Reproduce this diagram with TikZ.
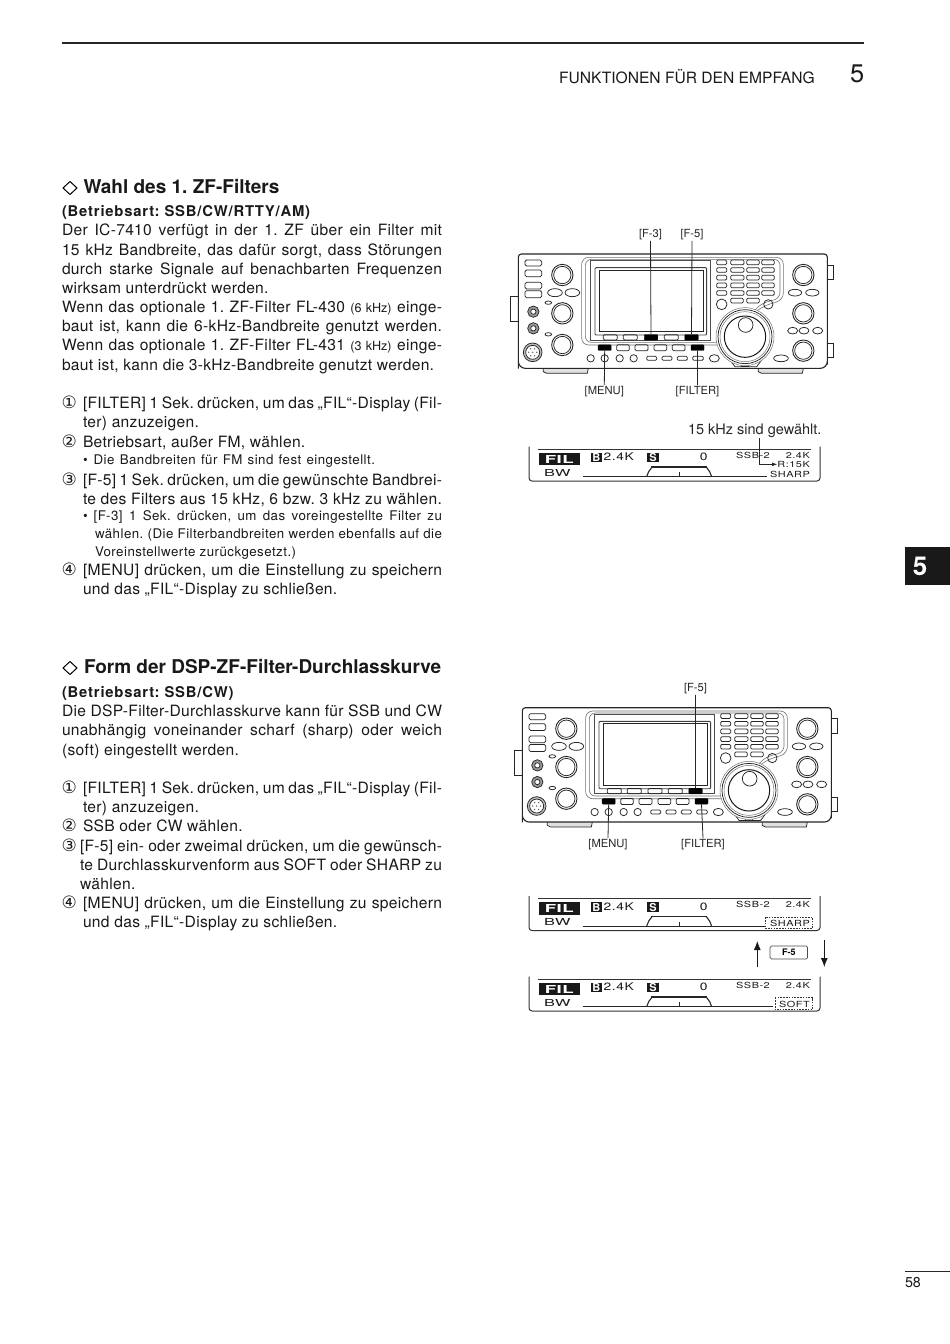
\documentclass[tikz,border=0pt]{standalone}
\usepackage{fontspec}
\usetikzlibrary{arrows.meta,calc}
\setmainfont{TeX Gyre Heros}
\newfontfamily\dejavu{DejaVu Sans}
\newfontfamily\dispfont[FakeStretch=1.3,LetterSpace=6]{TeX Gyre Heros}
\newfontfamily\wideb[FakeStretch=1.7,LetterSpace=4]{TeX Gyre Heros}
\newfontfamily\bodyfam[LetterSpace=2]{TeX Gyre Heros}
\newfontfamily\smallfam[LetterSpace=3.5]{TeX Gyre Heros}
\newfontfamily\subfam[LetterSpace=5.5]{TeX Gyre Heros}
\newcommand\bodyf{\fontsize{15.6}{18}\selectfont\bodyfam}
\newcommand\inlf{\fontsize{12.6}{15}\selectfont\rmfamily}
\newcommand\smallf{\fontsize{13.3}{15}\selectfont\smallfam}
\newcommand\headf{\fontsize{19}{22}\selectfont\bfseries}
\newcommand\subf{\fontsize{14.8}{17}\selectfont\subfam\bfseries}
\newcommand\dispf{\fontsize{10.6}{12}\selectfont\dispfont}
\newcommand\dispr{\fontsize{8.4}{10}\selectfont\dispfont}
\newcount\linecnt
\tikzset{
  txt/.style={anchor=base west,inner sep=0pt,outer sep=0pt,text=black!90},
  lab/.style={font=\fontsize{11.2}{13}\selectfont,inner sep=1pt,text=black!85},
  disptxt/.style={anchor=base east,inner sep=0pt,font=\dispr,text=black!90},
  dispbig/.style={anchor=base west,inner sep=0pt,font=\dispf,text=black!90},
  blackbox/.style={fill=black!90,text=white,minimum width=11.6pt,minimum height=9.6pt,inner sep=0pt,font=\fontsize{11}{12}\selectfont\bfseries},
  blackbtn/.style={fill=black,draw=black,inner sep=0pt,minimum width=13.5pt,minimum height=5.6pt,rounded corners=.8pt},
  conn/.style={line width=.8pt,black!85},
  rl/.style={line width=.75pt,black!85},
  dashbox/.style={draw=black!80,dashed,dash pattern=on 1.6pt off 1.2pt,line width=.6pt}
}
\newcommand\jl[5][\bodyf]{\global\advance\linecnt by 1
  \node[txt,font=#1] (line\the\linecnt) at (#2,#3) {\makebox[#4pt][s]{#5}};}
\newcommand\nln[4][\bodyf]{\global\advance\linecnt by 1
  \node[txt,font=#1] (line\the\linecnt) at (#2,#3) {#4};}
\newcommand\numc[3]{\global\advance\linecnt by 1
  \node[txt,font=\fontsize{17}{18}\selectfont\dejavu] (line\the\linecnt) at (#1,#2) {#3};}
\newcommand\diam[2]{\draw[line width=1pt] (#1,#2) -- ++(7,-6.5) -- ++(7,6.5) -- ++(-7,6.5) -- cycle;}
\newcommand\knob[2]{\draw[rl,line width=.9pt] (#1,#2) circle (32); \draw[rl] (#1,#2) circle (26);}
\newcommand\pill[4]{\draw[rl,rounded corners=1.2pt] (#1,#3) rectangle (#2,#4);}
\newcommand\ovalb[4]{\draw[rl] (#1,#2) ellipse (#3 and #4);}
% radio: #1 prefix, #2 xshift, #3 yshift, #4 F-3 button code
\newcommand\radio[4]{%
\begin{scope}[shift={(#2,#3)},x=.33333pt,y=-.33333pt]
  % tabs and feet
  \draw[rl] (55,230) -- (30,230) -- (30,305) -- (55,305);
  \draw[rl] (982,135) -- (1000,135) -- (1000,178) -- (982,178);
  \draw[rl] (982,370) -- (1000,370) -- (1000,412) -- (982,412);
  \draw[rl,fill=black!12] (130,445) -- (130,455) -- (140,460) -- (262,460) -- (265,445);
  \draw[rl,fill=black!12] (775,445) -- (775,455) -- (785,460) -- (907,460) -- (910,445);
  % body
  \draw[line width=1.1pt,black!85,rounded corners=3pt,fill=white] (55,102) -- (982,102) -- (982,425) [rounded corners=7pt] -- (982,445) -- (55,445) -- (55,425) [rounded corners=3pt] -- cycle;
  % left buttons
  \draw[rl,rounded corners=1.5pt] (75,120) rectangle (125,138);
  \draw[rl,rounded corners=1.5pt] (75,150) rectangle (125,170);
  \draw[rl,rounded corners=1.5pt] (75,187) rectangle (125,207);
  \draw[rl,rounded corners=1.5pt] (75,212) rectangle (125,233);
  \knob{187}{165} \knob{187}{280} \knob{187}{375}
  \knob{910}{165} \knob{910}{280} \knob{910}{392}
  \ovalb{165}{218}{22}{12} \ovalb{217}{218}{22}{12}
  \ovalb{885}{218}{20}{10} \ovalb{937}{218}{20}{10}
  \ovalb{878}{332}{15}{10} \ovalb{912}{332}{15}{10} \ovalb{953}{332}{15}{10}
  \ovalb{843}{415}{22}{10}
  \ovalb{145}{248}{10}{5} \ovalb{145}{343}{10}{5}
  \draw[rl,fill=black!40] (100,275) circle (17); \draw[rl,fill=white] (100,275) circle (8);
  \draw[rl,fill=black!40] (100,325) circle (17); \draw[rl,fill=white] (100,325) circle (8);
  \draw[rl,fill=black!25] (98,397) circle (28); \draw[rl,fill=white] (98,397) circle (21);
  \foreach \a in {0,60,...,300} {\fill[black!60] (98,397) ++(\a:12) circle (2.4);}
  \fill[black!60] (98,397) circle (2.4);
  % display bezel
  \draw[line width=.6pt,black!55,rounded corners=7pt] (245,112) -- (850,112) -- (850,240) -- (790,258) -- (735,300) -- (680,375) -- (245,375) -- cycle;
  \draw[line width=.6pt,black!55,rounded corners=6pt] (256,118) -- (840,118) -- (840,235) -- (785,250) -- (735,300) -- (670,367) -- (256,367) -- cycle;
  \draw[rl,black!70] (270,122) rectangle (632,360);
  \draw[line width=.9pt,black!75,rounded corners=1pt] (285,143) rectangle (620,345);
  \draw[line width=.8pt,black!85] (297,150) rectangle (610,335);
  % keypad
  \foreach \yy in {127,150,173,196,219} {
    \pill{650}{680}{\yy-7}{\yy+7} \pill{692}{732}{\yy-7}{\yy+7}
    \pill{740}{778}{\yy-7}{\yy+7} \pill{785}{823}{\yy-7}{\yy+7} }
  \pill{692}{730}{235}{249} \pill{740}{778}{235}{249}
  \draw[rl] (665,253) circle (16); \draw[rl] (805,253) circle (14);
  % dial
  \draw[rl,fill=white] (690,420) -- (705,440) -- (770,440) -- (785,420);
  \draw[rl] (725,432) rectangle (745,440);
  \draw[line width=.5pt,black!55,fill=white] (735,350) circle (87);
  \draw[rl] (735,350) circle (81);
  \draw[line width=.5pt,black!55] (735,350) circle (75);
  \draw[line width=1pt,black!90] (735,350) circle (62);
  \draw[rl] (737,315) circle (22);
  % first button row
  \pill{310}{352}{344}{360} \pill{370}{412}{344}{360} \pill{493}{535}{344}{360}
  #4
  \node[blackbtn] (#1f5) at (574.5,352) {};
  % second button row
  \node[blackbtn,minimum width=13pt] (#1menu) at (314,383) {};
  \pill{350}{388}{374}{392} \pill{405}{444}{374}{392} \pill{462}{500}{374}{392} \pill{517}{555}{374}{392}
  \node[blackbtn,minimum width=13pt] (#1filter) at (592.5,383) {};
  % third row
  \foreach \xx in {272,314,359,401} {\draw[rl] (\xx,415) circle (11);}
  \pill{440}{470}{409}{421} \pill{486}{516}{409}{421} \pill{532}{562}{409}{421} \pill{578}{610}{409}{421}
  \ovalb{643}{415}{15}{11}
\end{scope}}
% display: #1 prefix, #2 yshift, #3 baseline right end, #4 #5 extra content
\newcommand\lcd[5]{%
\begin{scope}[shift={(520,415+#2)},x=.33333pt,y=-.33333pt]
  \draw[line width=1pt,black!80,rounded corners=3pt] (27,95) -- (27,198) -- (900,198) -- (900,95);
  \draw[line width=1pt,black!80] (55,103) -- (872,103);
  \node[fill=black!90,minimum width=41pt,minimum height=12.4pt,inner sep=0pt,text=white,font=\fontsize{11}{13}\selectfont\wideb\bfseries] (#1fil) at (118,132) {FIL};
  \node[dispbig,font=\fontsize{9.6}{12}\selectfont\wideb] (#1bw) at (72,183) {BW};
  \node[blackbox] (#1b) at (229,128) {B};
  \node[dispbig] (#1bval) at (250,137) {2.4K};
  \node[blackbox] (#1s) at (399,128) {S};
  \node[dispbig,anchor=base] (#1zero) at (551,137) {0};
  \node[disptxt,anchor=base west] (#1ssb) at (648,129) {SSB-2};
  \node[disptxt] (#1wid) at (870,129) {2.4K};
  \draw[line width=1pt,black!85] (190,185) -- (#3,185);
  \draw[line width=1.7pt,black!85] (392,156) -- (562,156);
  \draw[line width=1.1pt,black!85] (380,185) -- (386,170) -- (397,155) (558,155) -- (569,170) -- (575,185);
  \draw[line width=1.1pt,black!85] (478,172) -- (478,185);
  #4
  #5
\end{scope}}
\begin{document}
\frenchspacing
\begin{tikzpicture}[x=1pt,y=-1pt]
\useasboundingbox (0,0) rectangle (950,1344);
\fill[white] (0,0) rectangle (950,1344);
% header
\draw[line width=1.3pt,black!85] (62,43) -- (864,43);
\node[txt,font=\fontsize{15.6}{18}\selectfont] (hdr) at (559,83) {FUNKTIONEN FÜR DEN EMPFANG};
\node[txt,font=\fontsize{25.5}{30}\selectfont] (hnum) at (850,82.5) {5};
% tab
\node[fill=black!90,text=white,anchor=north west,minimum width=45pt,minimum height=38pt,inner sep=0pt,font=\fontsize{26}{28}\selectfont\bfseries] (tab) at (905,547) {\makebox[30pt]{5}\kern15pt};
% page number
\draw[line width=.7pt,black!85] (905,1271) -- (950,1271);
\node[txt,font=\fontsize{14.3}{15}\selectfont] (pg) at (905,1287) {58};

% section 1
\diam{63}{188}
\nln[\headf]{83.5}{193}{Wahl des 1. ZF-Filters}
\nln[\subf]{62}{216.5}{(Betriebsart: SSB/CW/RTTY/AM)}
\jl{62}{235.5}{380}{Der IC-7410 verfügt in der 1. ZF über ein Filter mit}
\jl{62}{255}{380}{15 kHz Bandbreite, das dafür sorgt, dass Störungen}
\jl{62}{274}{380}{durch starke Signale auf benachbarten Frequenzen}
\nln{62}{293}{wirksam unterdrückt werden.}
\jl{62}{312.5}{380}{Wenn das optionale 1. ZF-Filter FL-430 {\inlf (6 kHz)} einge-}
\jl{62}{331.5}{380}{baut ist, kann die 6-kHz-Bandbreite genutzt werden.}
\jl{62}{350.5}{380}{Wenn das optionale 1. ZF-Filter FL-431 {\inlf (3 kHz)} einge-}
\nln{62}{370}{baut ist, kann die 3-kHz-Bandbreite genutzt werden.}

\numc{61.5}{408}{①}
\jl{83}{408}{359}{[FILTER] 1 Sek. drücken, um das „FIL“-Display (Fil-}
\nln{83}{427}{ter) anzuzeigen.}
\numc{61.5}{447}{②}
\nln{83}{447}{Betriebsart, außer FM, wählen.}
\jl[\smallf]{83}{464.5}{292}{•\hspace{6pt}Die Bandbreiten für FM sind fest eingestellt.}
\numc{61.5}{485}{③}
\jl{83}{485}{359}{[F-5] 1 Sek. drücken, um die gewünschte Bandbrei-}
\jl{83}{504}{359}{te des Filters aus 15 kHz, 6 bzw. 3 kHz zu wählen.}
\jl[\smallf]{83}{520.5}{359}{•\hspace{6pt}[F-3] 1 Sek. drücken, um das voreingestellte Filter zu}
\jl[\smallf]{95}{538.5}{347}{wählen. (Die Filterbandbreiten werden ebenfalls auf die}
\nln[\smallf]{95}{556}{Voreinstellwerte zurückgesetzt.)}
\numc{61.5}{575}{④}
\jl{83}{575}{359}{[MENU] drücken, um die Einstellung zu speichern}
\nln{83}{594}{und das „FIL“-Display zu schließen.}

% section 2
\diam{63}{668}
\nln[\headf]{84}{673}{Form der DSP-ZF-Filter-Durchlasskurve}
\nln[\subf]{62}{697}{(Betriebsart: SSB/CW)}
\jl{62}{716}{380}{Die DSP-Filter-Durchlasskurve kann für SSB und CW}
\jl{62}{735.5}{380}{unabhängig voneinander scharf (sharp) oder weich}
\nln{62}{755}{(soft) eingestellt werden.}
\numc{61.5}{793}{①}
\jl{83}{793}{359}{[FILTER] 1 Sek. drücken, um das „FIL“-Display (Fil-}
\nln{83}{812}{ter) anzuzeigen.}
\numc{61.5}{831.5}{②}
\nln{83}{831.5}{SSB oder CW wählen.}
\numc{61.5}{851}{③}
\jl{80}{851}{362}{[F-5] ein- oder zweimal drücken, um die gewünsch-}
\jl{80}{870}{362}{te Durchlasskurvenform aus SOFT oder SHARP zu}
\nln{80}{889}{wählen.}
\numc{61.5}{908}{④}
\jl{83}{908}{359}{[MENU] drücken, um die Einstellung zu speichern}
\nln{83}{927}{und das „FIL“-Display zu schließen.}

% radio 1
\radio{ra}{500}{220}{\node[blackbtn] (raf3) at (453,352) {};}
\node[lab] (raF3l) at (650.5,234.5) {[F-3]};
\node[lab] (raF5l) at (692,234.5) {[F-5]};
\node[lab] (raMl) at (604.3,391.5) {[MENU]};
\node[lab] (raFl) at (697.5,391.5) {[FILTER]};
\draw[conn] (raF3l.south) -- (raf3.north);
\draw[conn] (raF5l.south) -- (raf5.north);
\draw[conn] (raMl.north) -- (ramenu.south);
\draw[conn] (raFl.north) -- (rafilter.south);

% radio 2
\radio{rb}{504}{673.7}{\pill{432}{474}{344}{360}}
\node[lab] (rbF5l) at (695.5,688.5) {[F-5]};
\node[lab] (rbMl) at (608,844.5) {[MENU]};
\node[lab] (rbFl) at (703,844.5) {[FILTER]};
\draw[conn] (rbF5l.south) -- (rbf5.north);
\draw[conn] (rbMl.north) -- (rbmenu.south);
\draw[conn] (rbFl.north) -- (rbfilter.south);

% displays
\lcd{da}{0}{740}{\node[disptxt] (dar) at (870,157) {R:15K};}{\node[disptxt] (dash) at (870,187) {SHARP};}
\node[txt,font=\fontsize{14.5}{16}\selectfont,text=black!85] (kHz) at (688,434.5) {15 kHz sind gewählt.};
\coordinate (bend) at (759.3,438);
\draw[black!85,line width=.7pt,-{Latex[length=5pt,width=3.6pt]}] (bend) |- (dar.west);

\lcd{db}{449.5}{735}{\node[disptxt] (dbsh) at (870,187) {SHARP};}{\draw[dashbox] (735,158) rectangle (878,191);}
\lcd{dc}{530}{760}{\node[disptxt] (dcso) at (870,187) {SOFT};}{\draw[dashbox] (765,158) rectangle (878,194);}

\node[draw=black!70,line width=.7pt,rounded corners=1.5pt,minimum width=37.5pt,minimum height=13pt,inner sep=0pt,font=\fontsize{9}{10}\selectfont\bfseries] (f5box) at (788.8,952.5) {F-5};
\coordinate (upA) at (757.3,967);
\coordinate (upB) at (757.3,941);
\coordinate (dnA) at (824.3,940);
\coordinate (dnB) at (824.3,967);
\draw[black!90,line width=.9pt,-{Latex[length=9pt,width=7pt]}] (upA) -- (upB);
\draw[black!90,line width=.9pt,-{Latex[length=9pt,width=7pt]}] (dnA) -- (dnB);
\end{tikzpicture}
\end{document}
